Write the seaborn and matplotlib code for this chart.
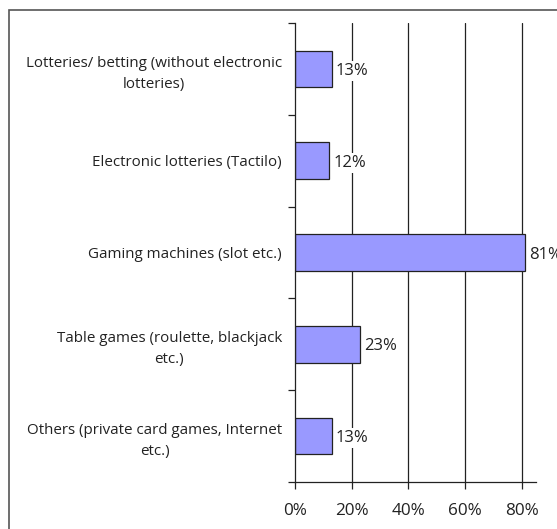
import matplotlib
matplotlib.use("Agg")
import matplotlib.pyplot as plt
import seaborn as sns
import pandas as pd
from matplotlib.patches import Rectangle

categories = [
    "Lotteries/ betting (without electronic\nlotteries)",
    "Electronic lotteries (Tactilo)",
    "Gaming machines (slot etc.)",
    "Table games (roulette, blackjack\netc.)",
    "Others (private card games, Internet\netc.)",
]
values = [0.13, 0.12, 0.81, 0.23, 0.13]
value_labels = ["13%", "12%", "81%", "23%", "13%"]
x_ticks = [0.0, 0.2, 0.4, 0.6, 0.8]
x_tick_labels = ["0%", "20%", "40%", "60%", "80%"]

df = pd.DataFrame({"category": categories, "value": values})

sns.set_style("white")
plt.rcParams["font.family"] = ["Open Sans", "DejaVu Sans"]

W, H = 557, 529
fig = plt.figure(figsize=(W / 100, H / 100), dpi=100)
fig.patch.set_facecolor("white")

# outer border (right/bottom edges fall outside the image)
fig.patches.append(Rectangle((9 / W, -0.05), 1.2, 1 - 9.5 / H + 0.05,
                             transform=fig.transFigure, fill=False,
                             edgecolor="#555555", linewidth=1.2))

ax = fig.add_axes([295 / W, 1 - 482 / H, (536 - 295) / W, (482 - 23) / H])

sns.barplot(data=df, x="value", y="category", orient="h", ax=ax,
            color="#9999FF", saturation=1, width=0.4,
            edgecolor="#222222", linewidth=0.9, zorder=3)

ax.set_xlim(0, 0.85)
ax.set_ylim(4.5, -0.5)
ax.set_xticks(x_ticks)
ax.set_xticklabels(x_tick_labels, fontsize=12.3, color="#222222")
ax.set_yticks([i - 0.5 for i in range(6)], minor=False)
ax.set_yticklabels([])
ax.set_yticks(range(5), minor=True)
ax.set_yticklabels(categories, minor=True, fontsize=10.9, color="#222222",
                   multialignment="center", linespacing=1.55)
ax.tick_params(axis="y", which="minor", length=0, pad=9.3)
ax.tick_params(axis="y", which="major", direction="out", length=5, width=0.9,
               color="#222222", left=True)
ax.tick_params(axis="x", direction="out", length=5, width=0.9, color="#222222",
               bottom=True, pad=10)
ax.set_xlabel("")
ax.set_ylabel("")

for s in ["top", "right"]:
    ax.spines[s].set_visible(False)
for s in ["left", "bottom"]:
    ax.spines[s].set_color("#222222")
    ax.spines[s].set_linewidth(0.9)
    ax.spines[s].set_zorder(4)

for xv in x_ticks[1:]:
    ax.axvline(xv, color="#222222", linewidth=0.9, zorder=1)

for i, (v, lab) in enumerate(zip(values, value_labels)):
    ax.annotate(lab, (v, i), xytext=(3, -1.5), textcoords="offset points",
                va="center", ha="left", fontsize=12, color="#222222",
                bbox=dict(facecolor="white", edgecolor="none", pad=1.5),
                zorder=5, annotation_clip=False)

fig.savefig("out.png", dpi=100)
